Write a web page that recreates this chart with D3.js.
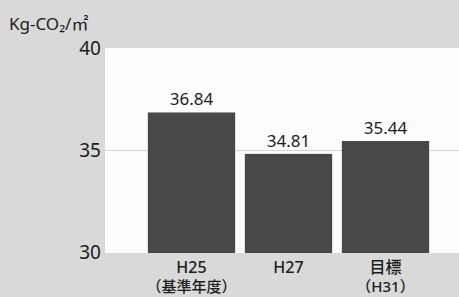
<!DOCTYPE html>
<html>
<head>
<meta charset="utf-8">
<script src="https://cdn.jsdelivr.net/npm/d3@7"></script>
<style>
  html, body { margin: 0; padding: 0; background: #d9d9d9; }
  svg { display: block; }
  text { font-family: "Noto Sans", "Noto Sans CJK JP", sans-serif; fill: #1c1c1c; }
</style>
</head>
<body>
<div id="chart"></div>
<script>
// chart data
var categories = ["H25", "H27", "目標"];
var subLabels = ["（基準年度）", "", "（H31）"];
var values = [36.84, 34.81, 35.44];
var yTicks = [30, 35, 40];
var unitLabel = "Kg-CO₂/㎡";

var width = 459, height = 297;

var svg = d3.select("#chart")
  .append("svg")
    .attr("width", width)
    .attr("height", height);

// grey scanned page background
svg.append("rect")
    .attr("width", width)
    .attr("height", height)
    .attr("fill", "#d9d9d9");

var x = d3.scaleBand()
    .domain(categories)
    .range([143, 434])
    .paddingInner(0.1)
    .paddingOuter(0.05);

var y = d3.scaleLinear()
    .domain([30, 40])
    .range([252, 48]);

// white plot area
svg.append("rect")
    .attr("x", 105)
    .attr("y", y(40))
    .attr("width", width - 105)
    .attr("height", y(30) - y(40) + 1)
    .attr("fill", "#fdfdfd");

// grid line at 35
svg.selectAll(".grid")
  .data(yTicks.filter(function(d){ return d > 30 && d < 40; }))
  .enter()
  .append("line")
    .attr("x1", 105)
    .attr("x2", width)
    .attr("y1", function(d){ return y(d) + 0.5; })
    .attr("y2", function(d){ return y(d) + 0.5; })
    .attr("stroke", "#d6d6d6")
    .attr("stroke-width", 1.2);

// y axis labels
var yAxis = d3.axisLeft(y).tickValues(yTicks).tickSize(0).tickPadding(0);
var gy = svg.append("g")
    .attr("transform", "translate(101,0)")
    .call(yAxis);
gy.select(".domain").remove();
gy.selectAll("text")
    .attr("font-size", "19px")
    .attr("font-family", null)
    .attr("fill", null)
    .attr("dy", "0.36em");

// bars
svg.selectAll(".bar")
  .data(values)
  .enter()
  .append("rect")
    .attr("x", function(d, i){ return x(categories[i]); })
    .attr("y", function(d){ return y(d); })
    .attr("width", x.bandwidth())
    .attr("height", function(d){ return y(30) - y(d) + 1; })
    .attr("fill", "#484848");

// value labels
svg.selectAll(".val")
  .data(values)
  .enter()
  .append("text")
    .attr("x", function(d, i){ return x(categories[i]) + x.bandwidth() / 2; })
    .attr("y", function(d){ return y(d) - 7; })
    .attr("text-anchor", "middle")
    .attr("font-size", "17px")
    .text(function(d){ return d.toFixed(2); });

// category labels
var xAxis = svg.append("g");
xAxis.selectAll(".cat")
  .data(categories)
  .enter()
  .append("text")
    .attr("x", function(d){ return x(d) + x.bandwidth() / 2; })
    .attr("y", 273)
    .attr("text-anchor", "middle")
    .attr("font-size", "16px")
    .attr("font-weight", 500)
    .text(function(d){ return d; });

xAxis.selectAll(".sub")
  .data(subLabels)
  .enter()
  .append("text")
    .attr("x", function(d, i){ return x(categories[i]) + x.bandwidth() / 2; })
    .attr("y", 292)
    .attr("text-anchor", "middle")
    .attr("font-size", "15px")
    .attr("font-weight", 500)
    .text(function(d){ return d; });

// unit label
svg.append("text")
    .attr("x", 9)
    .attr("y", 30)
    .attr("font-size", "17px")
    .text(unitLabel);
</script>
</body>
</html>
